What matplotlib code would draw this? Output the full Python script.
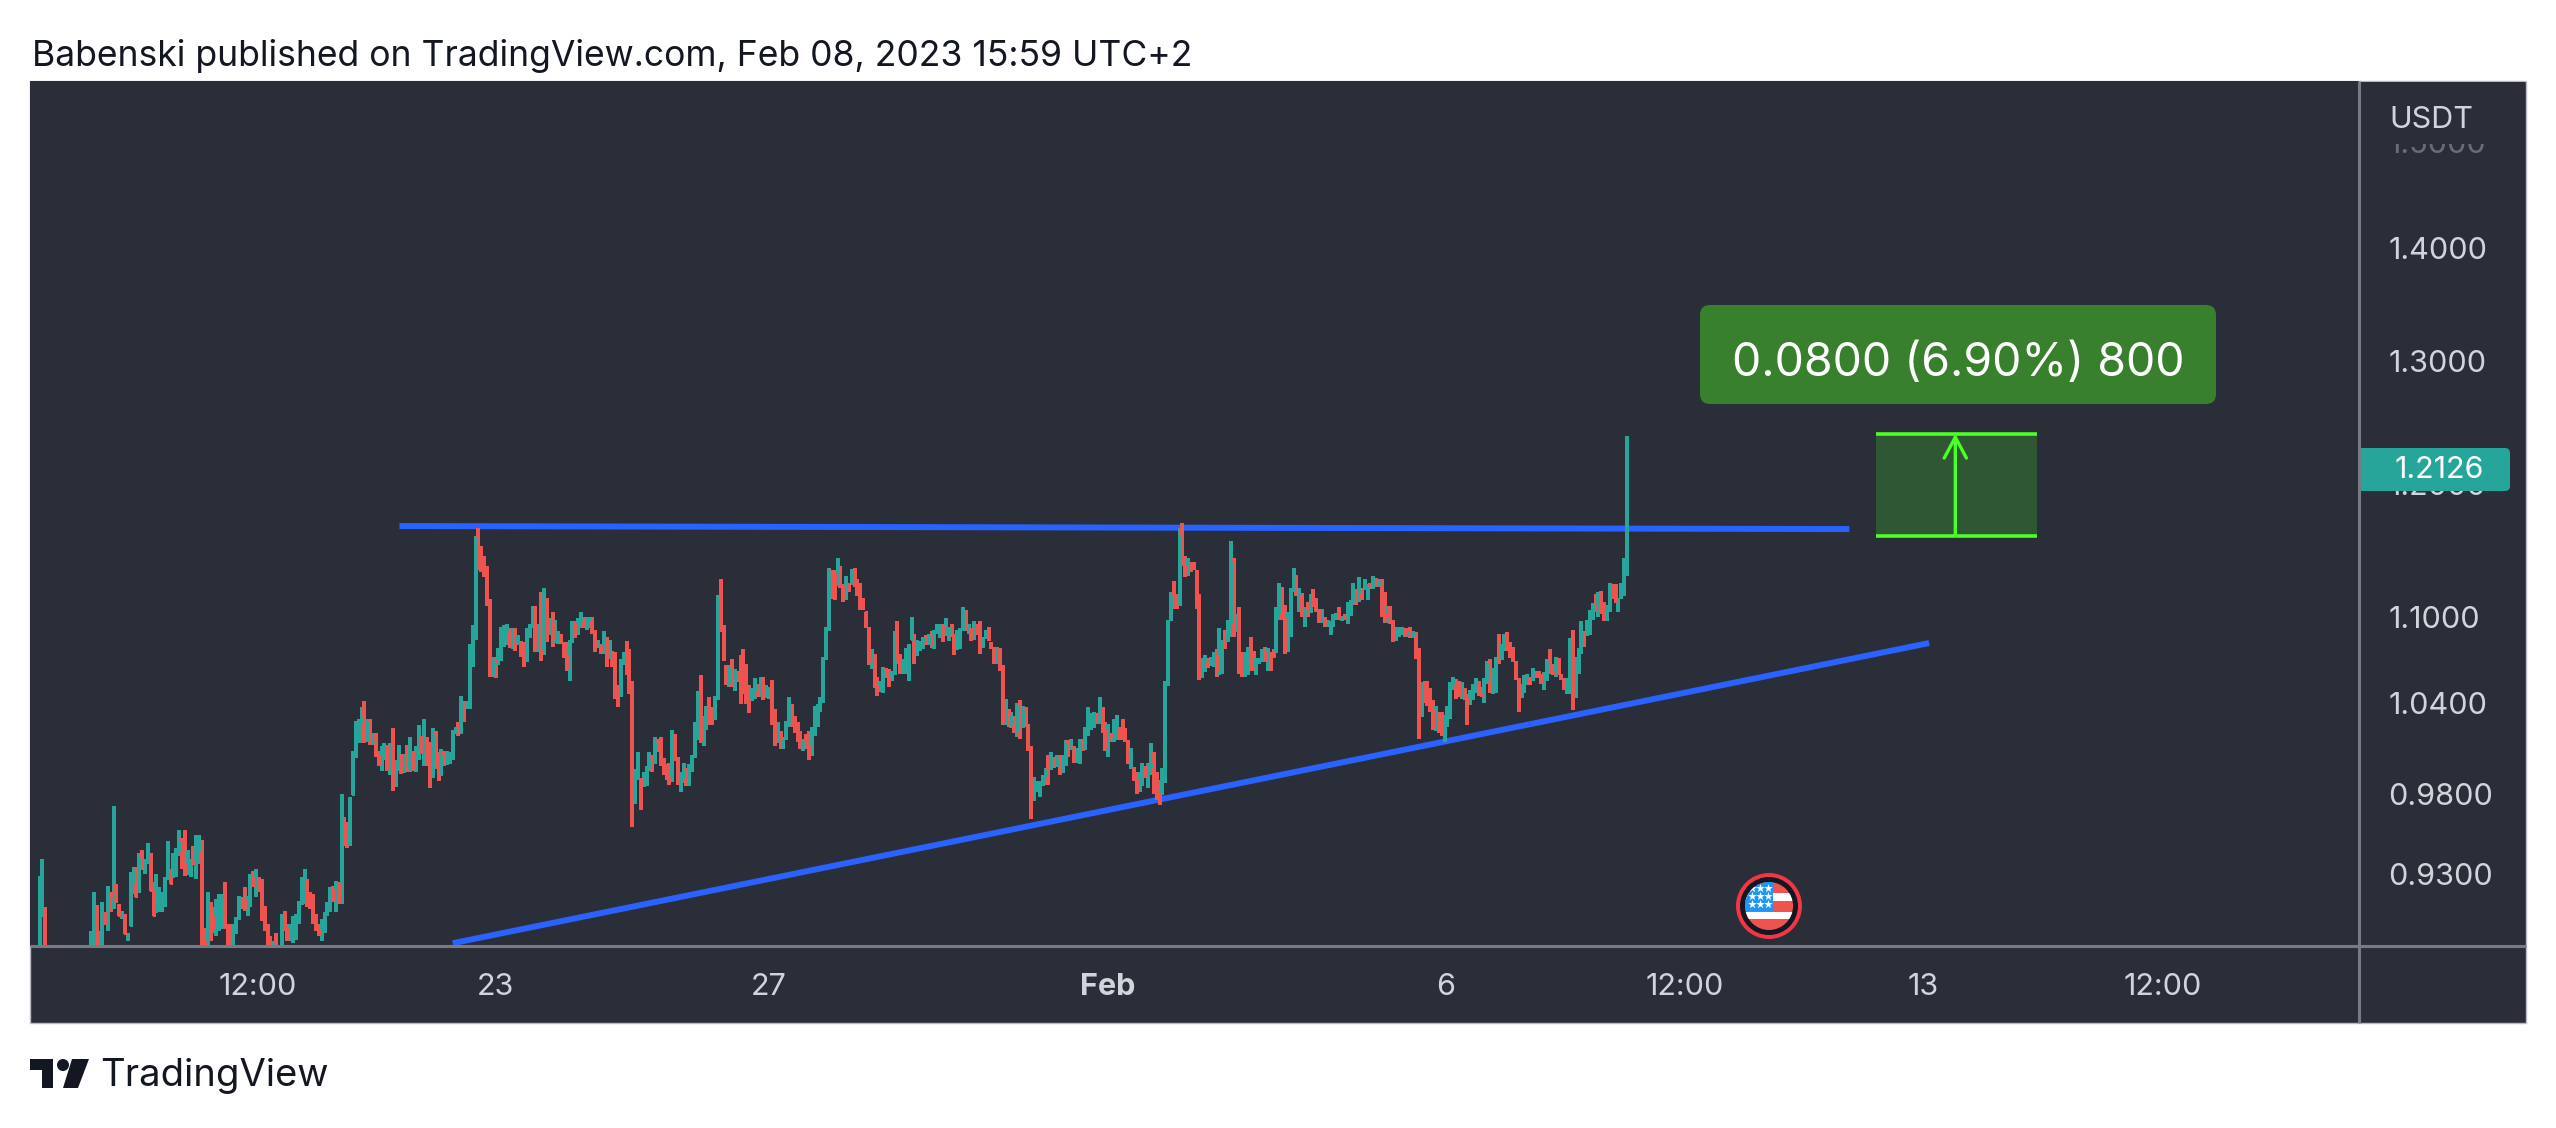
import numpy as np
import matplotlib
matplotlib.use("Agg")
import matplotlib.pyplot as plt
from matplotlib.patches import Rectangle, FancyBboxPatch, Polygon, Circle
from matplotlib.ticker import NullLocator

plt.rcParams['font.family'] = ['Inter', 'DejaVu Sans']

# ---------- hourly candles (high / low / close) ----------
highs_1 = [.929,.939,.910,.886,.884,.885,.883,.886,.884,.882,
           .885,.884,.886,.883,.885,.884,.886,.885,.896,.919,
           .911,.896,.913,.907,.923,.919,.972,.924,.912,.908,
           .906,.895,.931,.934,.934,.943,.945,.939,.949,.943,
           .925,.930,.922,.919,.928,.950,.933,.943,.946,.957,
           .952,.957,.945,.939,.947,.954,.954,.951]
lows_1 = [.880,.904,.880,.875,.875,.875,.875,.875,.875,.875,
          .875,.875,.875,.875,.875,.875,.875,.875,.880,.885,
          .882,.882,.885,.900,.896,.907,.909,.913,.905,.903,
          .894,.890,.899,.918,.916,.919,.933,.930,.936,.920,
          .905,.907,.907,.907,.910,.927,.924,.928,.928,.941,
          .933,.929,.930,.928,.936,.927,.936,.885]
closes_1 = [.927,.935,.884,.880,.880,.880,.880,.880,.880,.880,
            .880,.880,.880,.880,.880,.880,.880,.880,.884,.915,
            .885,.885,.910,.900,.921,.917,.918,.913,.905,.907,
            .894,.895,.925,.933,.916,.940,.933,.938,.948,.920,
            .905,.912,.917,.918,.926,.945,.924,.940,.945,.950,
            .936,.930,.932,.938,.936,.945,.952,.890]

highs_2 = [.898,.919,.913,.910,.915,.918,.918,.925,.900,.900,
           .900,.904,.917,.916,.922,.917,.930,.932,.933,.928,
           .927,.911,.900,.893,.890,.895,.888,.906,.908,.900,
           .900,.905,.906,.914,.928,.933,.927,.919,.918,.906,
           .900,.903,.907,.913,.922,.923,.926,.925,.980,.965]
lows_2 = [.885,.887,.890,.895,.893,.896,.897,.897,.885,.883,
          .885,.894,.903,.909,.908,.905,.910,.922,.916,.920,
          .902,.896,.885,.885,.885,.885,.880,.885,.896,.890,
          .890,.889,.891,.900,.912,.912,.910,.909,.900,.896,
          .893,.890,.895,.905,.907,.913,.907,.912,.912,.947]
closes_2 = [.888,.915,.905,.897,.900,.916,.917,.900,.888,.886,
            .898,.903,.916,.915,.909,.916,.928,.923,.930,.920,
            .904,.897,.888,.887,.889,.887,.884,.903,.898,.891,
            .892,.903,.905,.912,.914,.925,.911,.910,.901,.897,
            .894,.900,.906,.912,.920,.914,.924,.913,.965,.948]

highs_3 = [.962,.978,1.008,1.028,1.029,1.037,1.041,1.029,1.029,1.020,
           1.020,1.008,1.011,1.013,1.012,1.013,1.023,1.002,1.012,1.006,
           1.006,1.012,1.017,1.008,1.011,1.025,1.018,1.029,1.017,1.014,
           1.023,1.021,1.007,1.009,1.008,1.008,1.007,1.022,1.024,1.027,
           1.045,1.041,1.041,1.081,1.094,1.160,1.166,1.152,1.145,1.137]
lows_3 = [.946,.948,.979,1.003,1.013,1.013,1.013,1.014,1.012,1.012,
          1.004,.998,.995,1.002,.995,.992,.982,.985,.995,.993,
          .994,.994,.995,.995,.994,1.002,1.006,.998,.998,.984,
          .991,.996,.988,.992,.998,.999,1.000,1.002,1.019,1.018,
          1.020,1.027,1.036,1.036,1.065,1.084,1.134,1.133,1.129,1.108]
closes_3 = [.947,.975,1.005,1.025,1.027,1.030,1.015,1.027,1.013,1.014,
            1.005,.999,1.008,1.012,.996,1.011,.983,.999,1.010,.994,
            .996,.995,1.014,.996,1.008,1.022,1.007,1.015,1.000,.985,
            1.020,.998,.990,1.005,.999,1.000,1.006,1.020,1.023,1.019,
            1.042,1.040,1.040,1.078,1.092,1.158,1.136,1.135,1.130,1.110]

highs_4 = [1.113,1.072,1.072,1.078,1.093,1.094,1.095,1.092,1.092,1.092,
           1.087,1.083,1.082,1.092,1.095,1.108,1.108,1.095,1.118,1.121,
           1.114,1.099,1.104,1.098,1.090,1.088,1.082,1.082,1.084,1.097,
           1.097,1.099,1.104,1.100,1.100,1.100,1.100,1.091,1.084,1.081,
           1.090,1.086,1.084,1.076,1.075,1.052,1.070,1.075,1.083,1.077]
lows_4 = [1.058,1.058,1.057,1.066,1.069,1.079,1.080,1.078,1.077,1.076,
          1.081,1.072,1.065,1.069,1.085,1.092,1.075,1.075,1.069,1.074,
          1.082,1.088,1.079,1.082,1.081,1.081,1.071,1.062,1.055,1.082,
          1.085,1.088,1.092,1.092,1.091,1.092,1.088,1.075,1.079,1.074,
          1.074,1.065,1.071,1.065,1.043,1.037,1.045,1.066,1.059,1.046]
closes_4 = [1.060,1.070,1.068,1.077,1.090,1.090,1.094,1.080,1.080,1.078,
            1.086,1.074,1.066,1.090,1.094,1.106,1.077,1.077,1.071,1.115,
            1.085,1.097,1.082,1.084,1.089,1.083,1.073,1.064,1.082,1.095,
            1.086,1.097,1.100,1.093,1.098,1.099,1.089,1.077,1.080,1.076,
            1.088,1.066,1.080,1.074,1.045,1.040,1.068,1.073,1.060,1.048]

highs_5 = [1.055,.996,1.007,.990,.994,.998,1.007,1.005,1.017,1.016,
           1.017,1.003,.999,1.000,1.022,1.019,1.004,.994,1.000,.997,
           .999,1.005,1.027,1.048,1.059,1.031,1.038,1.044,1.037,1.045,
           1.116,1.128,1.094,1.066,1.066,1.070,1.063,1.062,1.073,1.077,
           1.067,1.052,1.050,1.057,1.053,1.058,1.058,1.052,1.051,1.056]
lows_5 = [.959,.974,.989,.970,.985,.985,.995,.994,.999,1.007,
          .998,.992,.989,.986,.988,1.001,.986,.981,.987,.985,
          .985,.994,1.004,1.015,1.013,1.011,1.022,1.025,1.025,1.029,
          1.042,1.089,1.069,1.052,1.051,1.051,1.048,1.054,1.039,1.046,
          1.039,1.033,1.042,1.043,1.044,1.045,1.042,1.044,1.043,1.025]
closes_5 = [.962,.992,1.000,.972,.992,.996,1.004,1.003,1.014,1.008,
            1.000,.993,.990,.987,1.015,1.003,.988,.990,.995,.986,
            .997,1.003,1.025,1.045,1.015,1.028,1.035,1.027,1.026,1.043,
            1.112,1.091,1.071,1.054,1.064,1.053,1.062,1.061,1.050,1.048,
            1.040,1.035,1.049,1.055,1.045,1.056,1.044,1.050,1.050,1.027]

highs_6 = [1.036,1.027,1.021,1.017,1.028,1.044,1.039,1.031,1.027,1.021,
           1.016,1.019,1.021,1.024,1.038,1.039,1.044,1.072,1.093,1.136,
           1.134,1.134,1.143,1.137,1.124,1.130,1.125,1.135,1.136,1.128,
           1.125,1.114,1.104,1.093,1.077,1.074,1.058,1.055,1.065,1.064,
           1.063,1.062,1.090,1.097,1.074,1.070,1.078,1.081,1.100,1.088]
lows_6 = [1.011,1.014,1.009,1.009,1.015,1.024,1.024,1.020,1.014,1.009,
          1.008,1.009,1.002,1.005,1.018,1.024,1.034,1.040,1.070,1.090,
          1.113,1.112,1.123,1.121,1.111,1.112,1.118,1.124,1.122,1.115,
          1.105,1.105,1.092,1.066,1.063,1.050,1.045,1.048,1.047,1.057,
          1.051,1.056,1.059,1.067,1.060,1.060,1.060,1.055,1.084,1.067]
closes_6 = [1.013,1.025,1.010,1.016,1.026,1.040,1.026,1.022,1.016,1.010,
            1.014,1.011,1.004,1.022,1.036,1.037,1.042,1.070,1.091,1.133,
            1.131,1.114,1.139,1.123,1.113,1.128,1.124,1.134,1.123,1.116,
            1.107,1.106,1.094,1.068,1.075,1.052,1.047,1.049,1.063,1.058,
            1.053,1.061,1.085,1.069,1.061,1.068,1.076,1.078,1.098,1.069]

highs_7 = [1.084,1.083,1.086,1.087,1.088,1.090,1.091,1.095,1.095,1.095,
           1.099,1.093,1.095,1.088,1.091,1.092,1.107,1.105,1.095,1.092,
           1.097,1.095,1.097,1.086,1.091,1.093,1.082,1.079,1.079,1.078,
           1.066,1.043,1.036,1.034,1.031,1.040,1.042,1.038,1.037,1.026,
           1.011,.991,.988,.988,.992,.997,1.005,1.007,1.004,1.005]
lows_7 = [1.073,1.076,1.077,1.080,1.081,1.078,1.077,1.088,1.085,1.082,
          1.087,1.083,1.086,1.073,1.077,1.077,1.090,1.090,1.088,1.083,
          1.084,1.087,1.074,1.079,1.085,1.083,1.077,1.067,1.067,1.062,
          1.025,1.025,1.024,1.023,1.020,1.017,1.016,1.024,1.024,1.008,
          .964,.976,.982,.978,.985,.986,.986,.996,.997,.998]
closes_7 = [1.082,1.082,1.085,1.081,1.087,1.080,1.089,1.094,1.094,1.083,
            1.088,1.092,1.087,1.075,1.089,1.091,1.105,1.091,1.094,1.085,
            1.095,1.094,1.076,1.084,1.090,1.085,1.078,1.068,1.068,1.064,
            1.027,1.040,1.026,1.032,1.021,1.038,1.017,1.036,1.026,1.010,
            .966,.977,.987,.987,.991,.995,.988,1.005,.998,1.004]

highs_8 = [1.005,1.005,1.015,1.015,1.016,1.011,1.010,1.016,1.016,1.024,
           1.037,1.033,1.034,1.033,1.044,1.037,1.027,1.026,1.020,1.029,
           1.032,1.024,1.029,1.023,1.015,1.010,.997,.994,.994,1.000,
           .998,1.000,1.013,1.007,.994,.989,.997,1.055,1.098,1.118,
           1.126,1.117,1.166,1.170,1.145,1.143,1.140,1.140,1.134,1.117]
lows_8 = [.992,.994,.998,1.004,1.009,1.000,1.000,.999,1.008,1.009,
          1.018,1.022,1.023,1.026,1.026,1.020,1.008,1.004,1.014,1.014,
          1.015,1.015,1.015,1.014,.999,.996,.988,.980,.982,.986,
          .990,.984,.992,.980,.976,.973,.980,.987,1.052,1.098,
          1.106,1.106,1.109,1.137,1.129,1.131,1.133,1.134,1.106,1.056]
closes_8 = [.993,1.003,1.013,1.005,1.010,1.001,1.008,1.014,1.009,1.022,
            1.030,1.031,1.033,1.032,1.040,1.022,1.010,1.022,1.018,1.027,
            1.030,1.022,1.016,1.015,1.000,1.008,.989,.981,.983,.998,
            .991,.998,1.000,.981,.978,.975,.995,1.052,1.095,1.115,
            1.108,1.107,1.160,1.138,1.131,1.141,1.139,1.135,1.108,1.058]

highs_9 = [1.071,1.073,1.071,1.072,1.075,1.077,1.092,1.084,1.091,1.098,
           1.156,1.143,1.102,1.107,1.075,1.075,1.079,1.086,1.076,1.071,
           1.071,1.077,1.079,1.078,1.075,1.077,1.107,1.125,1.122,1.109,
           1.104,1.121,1.136,1.131,1.121,1.117,1.107,1.111,1.117,1.120,
           1.114,1.106,1.106,1.100,1.098,1.097,1.102,1.103,1.107,1.101]
lows_9 = [1.057,1.061,1.064,1.066,1.065,1.058,1.060,1.060,1.077,1.083,
          1.086,1.086,1.090,1.060,1.058,1.058,1.059,1.062,1.062,1.059,
          1.067,1.068,1.068,1.062,1.062,1.071,1.075,1.098,1.098,1.074,
          1.075,1.086,1.119,1.115,1.104,1.100,1.093,1.100,1.104,1.107,
          1.104,1.096,1.096,1.093,1.093,1.087,1.093,1.098,1.098,1.097]
closes_9 = [1.069,1.071,1.065,1.071,1.073,1.060,1.062,1.082,1.079,1.096,
            1.140,1.088,1.100,1.062,1.060,1.072,1.077,1.064,1.063,1.069,
            1.070,1.076,1.069,1.076,1.074,1.072,1.104,1.123,1.099,1.076,
            1.102,1.118,1.130,1.117,1.119,1.102,1.105,1.101,1.115,1.108,
            1.105,1.097,1.104,1.094,1.094,1.095,1.100,1.102,1.099,1.100]

highs_10 = [1.102,1.111,1.112,1.125,1.120,1.129,1.121,1.128,1.124,1.125,
            1.130,1.128,1.128,1.128,1.118,1.108,1.108,1.098,1.093,1.093,
            1.093,1.092,1.092,1.093,1.090,1.089,1.078,1.054,1.055,1.055,
            1.050,1.042,1.038,1.034,1.034,1.032,1.038,1.054,1.058,1.056]
lows_10 = [1.098,1.095,1.101,1.109,1.109,1.111,1.112,1.120,1.112,1.120,
           1.120,1.122,1.122,1.100,1.096,1.096,1.095,1.082,1.084,1.086,
           1.087,1.086,1.086,1.085,1.085,1.070,1.016,1.031,1.040,1.038,
           1.034,1.022,1.021,1.020,1.018,1.014,1.024,1.029,1.049,1.043]
closes_10 = [1.099,1.109,1.110,1.122,1.118,1.127,1.119,1.121,1.123,1.121,
             1.128,1.123,1.126,1.102,1.098,1.099,1.096,1.084,1.091,1.092,
             1.092,1.087,1.090,1.086,1.089,1.071,1.018,1.052,1.041,1.040,
             1.035,1.023,1.036,1.032,1.019,1.030,1.036,1.052,1.056,1.054]

highs_11 = [1.055,1.054,1.050,1.046,1.049,1.053,1.057,1.055,1.051,1.057,
            1.069,1.070,1.064,1.072,1.088,1.081,1.088,1.089,1.082,1.079,
            1.069,1.057,1.053,1.059,1.060,1.058,1.064,1.062,1.062,1.060,
            1.061,1.070,1.077,1.067,1.072,1.071,1.060,1.057,1.057,1.085,
            1.091,1.072,1.078,1.097,1.090,1.098,1.105,1.110,1.117,1.118,
            1.119,1.111,1.109,1.125,1.124,1.124,1.114,1.125,1.143,1.238]
lows_11 = [1.044,1.043,1.042,1.025,1.039,1.042,1.047,1.045,1.044,1.040,
           1.053,1.047,1.046,1.047,1.067,1.070,1.076,1.076,1.071,1.068,
           1.056,1.034,1.044,1.047,1.052,1.052,1.056,1.057,1.057,1.053,
           1.049,1.055,1.060,1.059,1.058,1.059,1.056,1.049,1.046,1.046,
           1.035,1.044,1.060,1.074,1.079,1.087,1.087,1.098,1.104,1.100,
           1.102,1.097,1.098,1.104,1.113,1.110,1.104,1.114,1.115,1.130]
closes_11 = [1.045,1.052,1.043,1.027,1.047,1.051,1.055,1.046,1.045,1.055,
             1.067,1.048,1.062,1.070,1.068,1.079,1.086,1.077,1.072,1.069,
             1.057,1.036,1.051,1.058,1.059,1.053,1.063,1.061,1.060,1.054,
             1.060,1.068,1.062,1.060,1.070,1.060,1.057,1.050,1.055,1.080,
             1.037,1.068,1.076,1.092,1.080,1.096,1.103,1.108,1.105,1.116,
             1.104,1.098,1.107,1.123,1.114,1.111,1.112,1.123,1.141,1.2126]

y_tick_values = [0.93, 0.98, 1.04, 1.10, 1.20, 1.30, 1.40, 1.50]
y_tick_labels = ["0.9300", "0.9800", "1.0400", "1.1000", "1.2000", "1.3000", "1.4000", "1.5000"]
x_tick_hours = [76.6, 160, 255.8, 374.8, 493.2, 577.3, 661, 745]
x_tick_labels = ["12:00", "23", "27", "Feb", "6", "12:00", "13", "12:00"]

resistance_hours = [126.3, 635]
resistance_prices = [1.1674, 1.1651]
support_hours = [145, 663]
support_prices = [0.8889, 1.0815]
range_hours = [644.2, 701]
range_prices = [1.16, 1.24]
range_label = "0.0800 (6.90%) 800"
last_price = "1.2126"

# ---------- styles ----------
BG = "#2A2E39"; GRID = "#787B86"; TXT = "#D1D4DC"
UP = "#26A69A"; DOWN = "#EF5350"; BLUE = "#2962FF"; LIME = "#4CFF24"
W, H = 2556, 1128

highs = np.array(highs_1 + highs_2 + highs_3 + highs_4 + highs_5 + highs_6 + highs_7 + highs_8 + highs_9 + highs_10 + highs_11)
lows = np.array(lows_1 + lows_2 + lows_3 + lows_4 + lows_5 + lows_6 + lows_7 + lows_8 + lows_9 + lows_10 + lows_11)
closes = np.array(closes_1 + closes_2 + closes_3 + closes_4 + closes_5 + closes_6 + closes_7 + closes_8 + closes_9 + closes_10 + closes_11)
opens = np.clip(np.r_[closes[0], closes[:-1]], lows, highs)
hours = np.arange(len(closes))
colors = np.where(closes >= opens, UP, DOWN)

fig = plt.figure(figsize=(W / 100, H / 100), dpi=100, facecolor="white")
L, R, T, B = 30, 2359, 81, 946
ax = fig.add_axes([L / W, 1 - B / H, (R - L) / W, (B - T) / H], facecolor=BG)
ax.set_yscale("log")
ax.set_ylim(0.8873, 1.5613)
px_per_bar = (1627 - 39.5) / (len(closes) - 1)
ax.set_xlim(-(39.5 - L) / px_per_bar, (R - 39.5) / px_per_bar)

ax.vlines(hours, lows, highs, colors=colors, lw=1.45, capstyle="butt", zorder=3, antialiaseds=False)
ax.vlines(hours, np.minimum(opens, closes), np.maximum(opens, closes) + 1e-4, colors=colors, lw=2.1,
          capstyle="butt", zorder=3, antialiaseds=False)

ax.plot(resistance_hours, resistance_prices, color=BLUE, lw=4.3, solid_capstyle="butt", zorder=2)
ax.plot(support_hours, support_prices, color=BLUE, lw=4.3, solid_capstyle="butt", zorder=2)

ax.fill_between(range_hours, range_prices[0], range_prices[1], color=LIME, alpha=0.2, lw=0, zorder=2)
ax.hlines(range_prices, range_hours[0], range_hours[1], colors=LIME, lw=2.6, zorder=3)
mid = (range_hours[0] + range_hours[1]) / 2 - 0.4
ax.annotate("", xy=(mid, range_prices[1]), xytext=(mid, range_prices[0]),
            arrowprops=dict(arrowstyle="->,head_length=0.75,head_width=0.4", color=LIME, lw=2.4,
                            mutation_scale=20, shrinkA=0, shrinkB=0), zorder=4)

ax.yaxis.tick_right()
ax.set_yticks(y_tick_values)
ax.set_yticklabels(y_tick_labels)
ax.yaxis.set_minor_locator(NullLocator())
ax.set_xticks(x_tick_hours)
ax.set_xticklabels(x_tick_labels)
ax.xaxis.set_minor_locator(NullLocator())
ax.tick_params(axis="y", length=0, pad=21, labelsize=22, labelcolor=TXT)
ax.tick_params(axis="x", length=0, pad=19.5, labelsize=22, labelcolor=TXT)
ax.get_xticklabels()[3].set_fontweight("bold")
ax.get_yticklabels()[-1].set_color("#6A6D78")
for s in ax.spines.values():
    s.set_visible(False)

# ---------- overlay in pixel coordinates: panel chrome, tags, logo, icon ----------
ov = fig.add_axes([0, 0, 1, 1], facecolor="none")
ov.set_xlim(0, W); ov.set_ylim(H, 0); ov.axis("off")
ov.set_zorder(-1)
ov.add_patch(Rectangle((L, T), 2526 - L, 1023 - T, fc=BG, ec="#B8BBC4", lw=1.0, zorder=0))
ax.set_zorder(1)

top = fig.add_axes([0, 0, 1, 1], facecolor="none")
top.set_xlim(0, W); top.set_ylim(H, 0); top.axis("off")
top.set_zorder(2)
top.add_patch(Rectangle((R + 2, T + 1), 2525 - R - 2, 143 - T, fc=BG, ec="none"))
top.text(2389, 120, "USDT", color=TXT, fontsize=22, va="center", ha="left")

tag = FancyBboxPatch((R - 12, 448), 2510 - R + 12, 43, boxstyle="round,pad=0,rounding_size=5", fc=UP, ec="none")
top.add_patch(tag)
tag.set_clip_path(Rectangle((R, 440), 200, 60, transform=top.transData))
top.text(2439, 470, last_price, color="white", fontsize=22, va="center", ha="center")

top.plot([L, 2526], [B, B], color=GRID, lw=2.2, solid_capstyle="butt")
top.plot([R, R], [T, 1023], color=GRID, lw=2.2, solid_capstyle="butt")

top.add_patch(FancyBboxPatch((1700, 305), 516, 99, boxstyle="round,pad=0,rounding_size=10", fc="#38802D", ec="none"))
top.text(1958, 364, range_label, color="white", fontsize=33.5, va="center", ha="center")

fig.text(32 / W, 1 - 56 / H, "Babenski published on TradingView.com, Feb 08, 2023 15:59 UTC+2",
         color="#131722", fontsize=25.6, va="center", ha="left")

# TradingView logo
for pts in ([(30, 1059), (53, 1059), (53, 1088), (42, 1088), (42, 1070), (30, 1070)],
            [(72, 1059), (89, 1059), (78, 1088), (63, 1088)]):
    top.add_patch(Polygon(pts, closed=True, fc="#131722", ec="none"))
top.add_patch(Circle((63, 1065), 6, fc="#131722", ec="none"))
fig.text(100 / W, 1 - 1076 / H, "TradingView", color="#131722", fontsize=27.5, va="center", ha="left")

# US flag event marker
cx, cy = 1769, 906
top.add_patch(Circle((cx, cy), 33, fc="#F23645", ec="none"))
top.add_patch(Circle((cx, cy), 29, fc="#131722", ec="none"))
disc = Circle((cx, cy), 24, fc="#EF5350", ec="none")
top.add_patch(disc)
for y0, y1 in [(893, 901), (912, 919)]:
    r = top.add_patch(Rectangle((cx - 25, y0), 50, y1 - y0, fc="white", ec="none"))
    r.set_clip_path(disc)
r = top.add_patch(Rectangle((cx - 25, cy - 25), 29, 30, fc="#2196F3", ec="none"))
r.set_clip_path(disc)
for sy in (888, 896, 904):
    for sx in (1752, 1760, 1768):
        m = top.scatter([sx], [sy], marker="*", s=42, c="white", linewidths=0, zorder=5)
        m.set_clip_path(disc)

fig.savefig("out.png", dpi=100, facecolor="white")
